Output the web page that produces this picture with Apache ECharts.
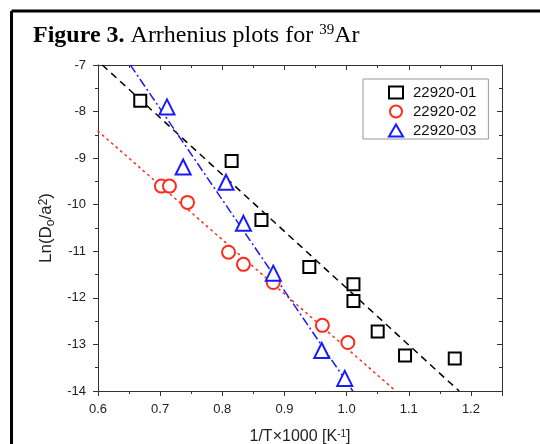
<!DOCTYPE html>
<html>
<head>
<meta charset="utf-8">
<script src="https://cdn.jsdelivr.net/npm/echarts@6/dist/echarts.min.js"></script>
<style>
html, body { margin: 0; padding: 0; background: #fff; }
#chart { width: 540px; height: 444px; }
</style>
</head>
<body>
<div id="chart"></div>
<script>
var chart = echarts.init(document.getElementById('chart'));

var seriesNames = ['22920-01', '22920-02', '22920-03'];

// 1/T x 1000 and Ln(D0/a^2)
var s01x = [0.668, 0.815, 0.863, 0.940, 1.011, 1.011, 1.050, 1.094, 1.174];
var s01y = [-7.77, -9.06, -10.33, -11.34, -11.71, -12.07, -12.72, -13.24, -13.30];
var s02x = [0.702, 0.715, 0.744, 0.810, 0.834, 0.882, 0.961, 1.002];
var s02y = [-9.60, -9.60, -9.95, -11.02, -11.28, -11.67, -12.59, -12.96];
var s03x = [0.711, 0.737, 0.806, 0.834, 0.882, 0.960, 0.997];
var s03y = [-7.90, -9.19, -9.52, -10.40, -11.47, -13.13, -13.73];

// fitted lines, ends
var fit01x = [0.607, 1.181], fit01y = [-7, -14];
var fit02x = [0.600, 1.079], fit02y = [-8.42, -14];
var fit03x = [0.652, 1.010], fit03y = [-7, -14];

var xTicks = [0.6, 0.7, 0.8, 0.9, 1.0, 1.1, 1.2];
var yTicks = [-7, -8, -9, -10, -11, -12, -13, -14];

function pairs(xs, ys) {
    return xs.map(function (x, i) { return [x, ys[i]]; });
}

var colors = ['#000000', '#ff2a1a', '#1a1aff'];
var symbols = ['emptyRect', 'emptyCircle', 'emptyTriangle'];
var sizes = [12, 13, 15];

var sans = 'Liberation Sans, Arial, sans-serif';
var axisColor = '#333';
var labelFont = { color: '#222', fontSize: 13, fontFamily: sans };

var mainX = {
    type: 'value', min: 0.6, max: 1.25, interval: 0.1,
    position: 'bottom',
    axisLine: { show: true, lineStyle: { color: axisColor, width: 1 } },
    axisTick: { show: true, inside: false, length: 5, lineStyle: { color: axisColor } },
    minorTick: { show: true, splitNumber: 2, length: 3, lineStyle: { color: axisColor } },
    splitLine: { show: false },
    axisLabel: Object.assign({
        margin: 12,
        formatter: function (v) {
            var r = Math.round(v * 10) / 10;
            return xTicks.indexOf(r) >= 0 ? r.toFixed(1) : '';
        }
    }, labelFont),
    name: '1/T×1000 [K{sup|-1}]',
    nameLocation: 'middle',
    nameGap: 38,
    nameTextStyle: {
        fontSize: 16, color: '#222', fontFamily: sans,
        rich: { sup: { fontSize: 10, verticalAlign: 'top', lineHeight: 16, color: '#222', fontFamily: sans } }
    }
};

var topX = {
    type: 'value', min: 0.6, max: 1.25, interval: 0.1,
    position: 'top',
    axisLine: { show: true, lineStyle: { color: axisColor, width: 1 } },
    axisTick: { show: true, inside: true, length: 5, lineStyle: { color: axisColor } },
    minorTick: { show: true, splitNumber: 2, length: 3, lineStyle: { color: axisColor } },
    splitLine: { show: false },
    axisLabel: { show: false }
};

var mainY = {
    type: 'value', min: -14, max: -7, interval: 1,
    position: 'left',
    axisLine: { show: true, onZero: false, lineStyle: { color: axisColor, width: 1 } },
    axisTick: { show: true, inside: false, length: 5, lineStyle: { color: axisColor } },
    minorTick: { show: true, splitNumber: 2, length: 3, lineStyle: { color: axisColor } },
    splitLine: { show: false },
    axisLabel: Object.assign({ margin: 12 }, labelFont),
    name: 'Ln(D{sub|o}/a{sup|2})',
    nameLocation: 'middle',
    nameGap: 39,
    nameTextStyle: {
        fontSize: 17, color: '#222', fontFamily: sans,
        rich: {
            sub: { fontSize: 12, verticalAlign: 'bottom', lineHeight: 19, color: '#222', fontFamily: sans },
            sup: { fontSize: 12, verticalAlign: 'top', lineHeight: 19, color: '#222', fontFamily: sans }
        }
    }
};

var rightY = {
    type: 'value', min: -14, max: -7, interval: 1,
    position: 'right',
    axisLine: { show: true, onZero: false, lineStyle: { color: axisColor, width: 1 } },
    axisTick: { show: true, inside: true, length: 5, lineStyle: { color: axisColor } },
    minorTick: { show: true, splitNumber: 2, length: 3, lineStyle: { color: axisColor } },
    splitLine: { show: false },
    axisLabel: { show: false }
};

var pts = [pairs(s01x, s01y), pairs(s02x, s02y), pairs(s03x, s03y)];
var fits = [pairs(fit01x, fit01y), pairs(fit02x, fit02y), pairs(fit03x, fit03y)];
var dashes = [[7, 5], [1.5, 4.5], [9, 3, 2, 3]];

var series = [];
fits.forEach(function (f, i) {
    series.push({
        type: 'line', data: f, symbol: 'none', silent: true,
        xAxisIndex: 0, yAxisIndex: 0, z: 1,
        lineStyle: { color: colors[i], width: 1.5, type: dashes[i], cap: i === 1 ? 'round' : 'butt' }
    });
});
pts.forEach(function (p, i) {
    series.push({
        name: seriesNames[i], type: 'scatter', data: p,
        symbol: symbols[i], symbolSize: sizes[i],
        xAxisIndex: 0, yAxisIndex: 0, z: 3,
        itemStyle: { color: colors[i], borderColor: colors[i], borderWidth: 2, opacity: 1 }
    });
});

var option = {
    animation: false,
    backgroundColor: '#fff',
    grid: { left: 98, top: 65, right: 38, bottom: 53, outerBoundsMode: 'none', containLabel: false },
    xAxis: [mainX, topX],
    yAxis: [mainY, rightY],
    legend: {
        orient: 'vertical',
        left: 363, top: 79,
        padding: [6, 12, 1, 25],
        itemWidth: 14, itemHeight: 12, itemGap: 4,
        borderColor: '#999', borderWidth: 1,
        backgroundColor: '#fff',
        data: seriesNames.map(function (n, i) { return { name: n, icon: symbols[i] }; }),
        itemStyle: { borderWidth: 2 },
        textStyle: { fontSize: 15, color: '#111', fontFamily: sans, padding: [0, 0, 0, 5] }
    },
    series: series,
    graphic: [
        { type: 'line', shape: { x1: 11.5, y1: 11, x2: 540, y2: 11 }, style: { stroke: '#000', lineWidth: 3 } },
        { type: 'line', shape: { x1: 11.5, y1: 11, x2: 11.5, y2: 444 }, style: { stroke: '#000', lineWidth: 3 } },
        {
            type: 'text', left: 33, top: 23,
            style: {
                text: '{b|Figure 3.} Arrhenius plots for {sup|39}Ar',
                font: '24px "Liberation Serif", "Times New Roman", serif',
                fill: '#000',
                lineHeight: 26,
                rich: {
                    b: { fontWeight: 'bold', fontSize: 24, fontFamily: 'Liberation Serif', lineHeight: 26 },
                    sup: { fontSize: 15, fontFamily: 'Liberation Serif', verticalAlign: 'top', lineHeight: 26 }
                }
            }
        }
    ]
};

chart.setOption(option);
</script>
</body>
</html>
